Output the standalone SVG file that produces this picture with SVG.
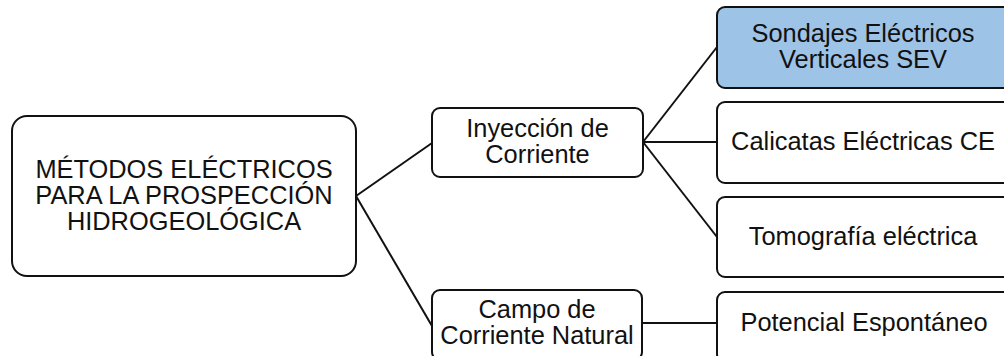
<svg xmlns="http://www.w3.org/2000/svg" width="1004" height="356" viewBox="0 0 1004 356">
<style>
.box{fill:#ffffff;stroke:#111111;stroke-width:2}
.blue{fill:#9dc3e6}
.t{font-family:"Liberation Sans",Arial,sans-serif;font-size:25.4px;fill:#111111;text-anchor:middle}
.c{stroke:#111111;stroke-width:2;fill:none}
</style>
<rect width="1004" height="356" fill="#ffffff"/>
<g id="connectors">
<line class="c" x1="356" y1="196" x2="432" y2="143"/>
<line class="c" x1="356" y1="196" x2="432" y2="326"/>
<line class="c" x1="643" y1="142" x2="717" y2="47"/>
<line class="c" x1="643" y1="142" x2="717" y2="142"/>
<line class="c" x1="643" y1="142" x2="717" y2="237"/>
<line class="c" x1="642" y1="323" x2="717" y2="323"/>
</g>
<g id="main">
<rect class="box" x="12" y="116" width="344" height="160" rx="15"/>
<text class="t" x="184" y="178">MÉTODOS ELÉCTRICOS</text>
<text class="t" x="184" y="204">PARA LA PROSPECCIÓN</text>
<text class="t" x="184" y="230">HIDROGEOLÓGICA</text>
</g>
<g id="inyeccion">
<rect class="box" x="432" y="108" width="211" height="69" rx="8"/>
<text class="t" x="537.5" y="137">Inyección de</text>
<text class="t" x="537.5" y="163">Corriente</text>
</g>
<g id="campo">
<rect class="box" x="432" y="290" width="210" height="70" rx="8"/>
<text class="t" x="537" y="318">Campo de</text>
<text class="t" x="537" y="344">Corriente Natural</text>
</g>
<g id="sev">
<rect class="box blue" x="717" y="7" width="300" height="81" rx="8"/>
<text class="t" x="863" y="42">Sondajes Eléctricos</text>
<text class="t" x="863" y="68">Verticales SEV</text>
</g>
<g id="ce">
<rect class="box" x="717" y="102" width="300" height="81" rx="8"/>
<text class="t" x="863" y="150">Calicatas Eléctricas CE</text>
</g>
<g id="tomografia">
<rect class="box" x="717" y="197" width="300" height="80" rx="8"/>
<text class="t" x="863" y="245">Tomografía eléctrica</text>
</g>
<g id="potencial">
<rect class="box" x="717" y="292" width="300" height="70" rx="8"/>
<text class="t" x="864" y="331">Potencial Espontáneo</text>
</g>
</svg>
